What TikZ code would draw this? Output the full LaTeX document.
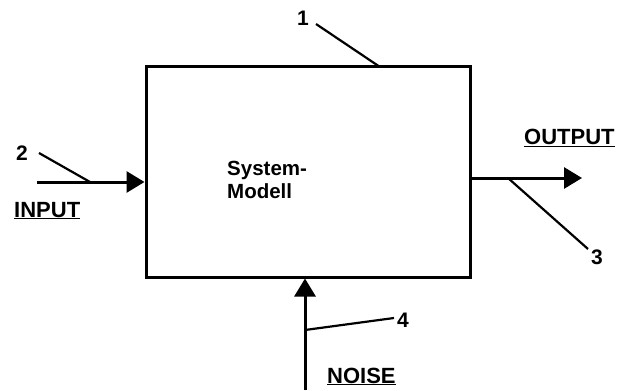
\documentclass[tikz,border=0pt]{standalone}
\usepackage{fontspec}
\setmainfont{Liberation Sans}
\usetikzlibrary{arrows.meta}
\begin{document}
\begin{tikzpicture}[x=1pt,y=-1pt,
  heavy/.style={line width=3pt},
  leader/.style={line width=2.2pt},
  flow/.style={heavy,-{Triangle[length=18pt,width=21pt]}},
  lbl/.style={inner sep=0pt,font=\fontsize{22}{24}\selectfont\bfseries},
  num/.style={inner sep=0pt,font=\fontsize{21}{23}\selectfont\bfseries},
  txt/.style={inner sep=0pt,font=\fontsize{20.5}{23}\selectfont\bfseries,align=left}]
\useasboundingbox (0,0) rectangle (617,390);
\node[heavy,draw,minimum width=324pt,minimum height=210pt,inner sep=0pt] (box) at (308,172) {};
\node[txt,anchor=north west] (sys) at (227,161) {System-\\Modell};
% input
\coordinate (inS) at (37,182);
\draw[flow] (inS) -- (inS -| box.west);
\node[lbl,anchor=base west] (input) at (14,217) {\underline{INPUT}};
\node[num] (l2) at (22,153) {2};
\coordinate (a2) at (39,153);
\coordinate (b2) at (90,182);
\draw[leader] (a2) -- (b2);
% output
\coordinate (outE) at (582,178);
\draw[flow] (box.east |- outE) -- (outE);
\node[lbl,anchor=base west] (output) at (524,145) {\underline{OUTPUT}};
\coordinate (a3) at (508,178);
\node[num] (l3) at (597,257) {3};
\coordinate (b3) at (588,249);
\draw[leader] (a3) -- (b3);
% top label
\node[num] (l1) at (303,18) {1};
\coordinate (a1) at (316,24);
\coordinate (b1) at (380,67);
\draw[leader] (a1) -- (b1);
% noise
\coordinate (noiseS) at (305,390);
\draw[flow] (noiseS) -- (noiseS |- box.south);
\node[lbl,anchor=base west] (noise) at (327,383) {\underline{NOISE}};
\coordinate (a4) at (305,330);
\coordinate (b4) at (394,318);
\node[num] (l4) at (403,320) {4};
\draw[leader] (a4) -- (b4);
\end{tikzpicture}
\end{document}
